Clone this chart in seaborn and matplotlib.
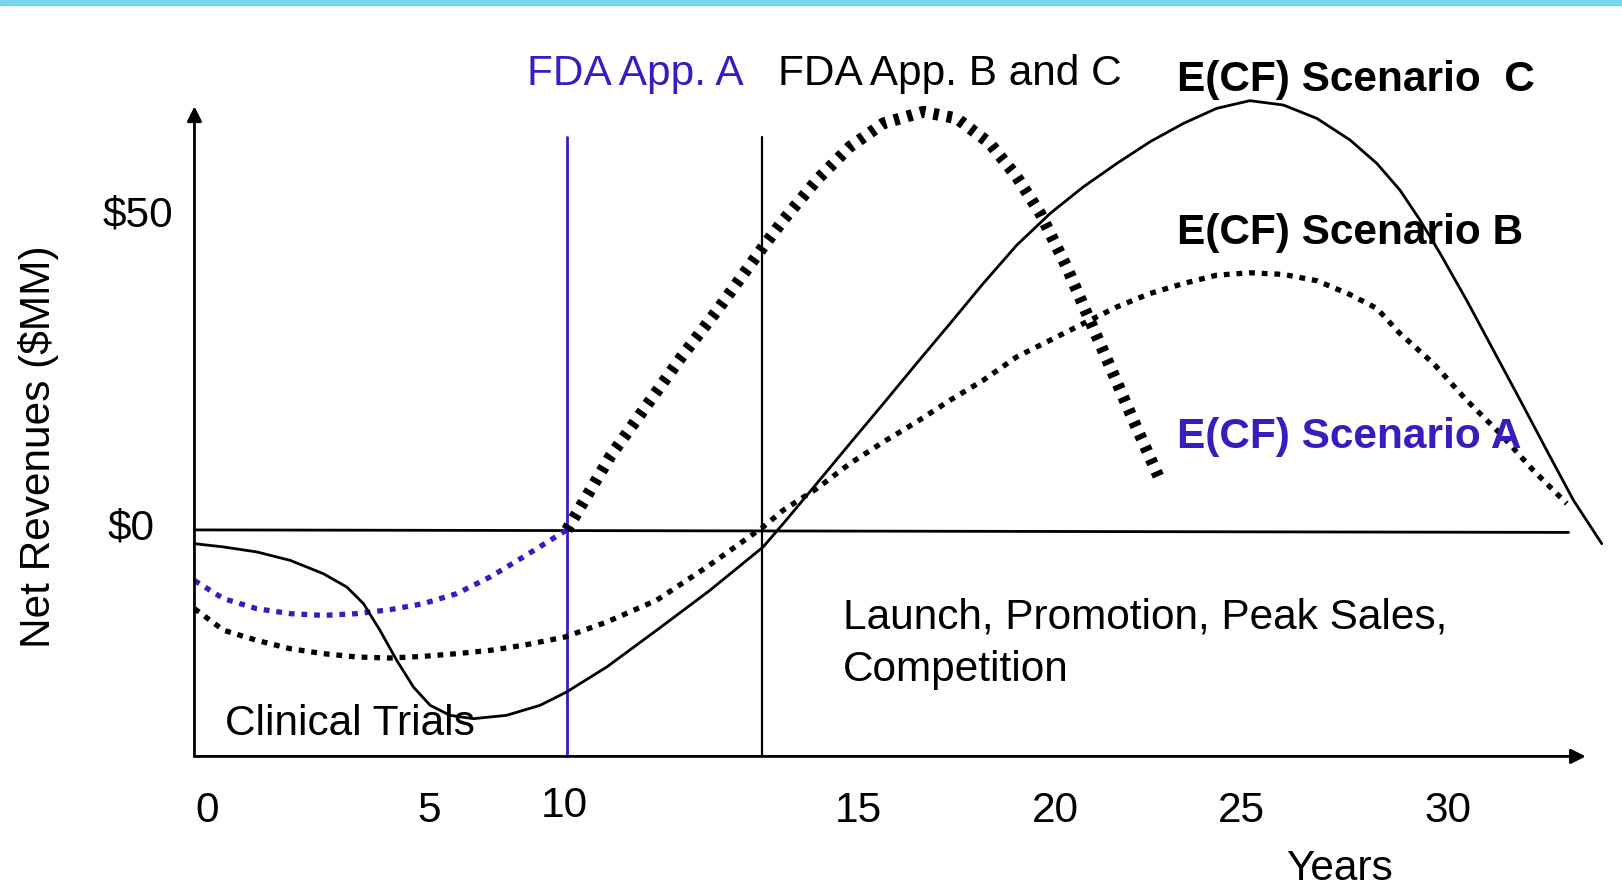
import pandas as pd
import seaborn as sns
from matplotlib import pyplot as plt
from matplotlib.patches import Rectangle

# values (x = years on the sketch scale, y = $MM)
scen_a_years = [0, 0.78, 1.67, 2.57, 3.46, 4.36, 5.25, 6.14, 7.04, 7.94, 8.83, 10,
                11.17, 12.13, 13.09, 14.05, 15.27, 15.81, 16.71, 17.6, 18.5, 19.57,
                20.47, 21.36, 22.08, 22.71, 23.42, 23.96, 24.59, 25.21, 25.97]
scen_a_vals = [-8.05, -10.92, -12.52, -13.31, -13.59, -13.31, -12.68, -11.73, -10.13, -7.48, -4.31, 0,
               11.74, 19.67, 27.6, 35.0, 44.98, 49.23, 55.59, 60.89, 64.61, 66.45,
               65.39, 61.41, 56.12, 50.3, 41.81, 34.39, 25.9, 17.43, 7.37]

scen_b_years = [0, 0.78, 1.67, 2.57, 3.46, 4.36, 5.25, 6.14, 7.04, 7.94, 8.83, 9.95,
                11.07, 12.41, 13.76, 15.27, 15.81, 16.71, 17.6, 18.5, 19.39, 20.29,
                21.18, 22.08, 22.98, 23.87, 24.77, 25.66, 26.56, 27.45, 28.34, 29.24,
                30.14, 31.03, 31.75, 32.37, 33.27, 34.16, 35.06, 35.95, 36.85]
scen_b_vals = [-12.52, -15.95, -17.55, -18.88, -19.67, -20.2, -20.36, -20.1, -19.67, -19.14, -18.34, -17.02,
               -14.64, -11.18, -5.89, 0.46, 3.13, 6.56, 10.54, 13.98, 17.15, 20.61,
               23.78, 27.5, 30.15, 32.8, 35.44, 37.57, 39.16, 40.48, 40.86, 40.6,
               39.6, 37.4, 35.2, 31.22, 26.45, 20.61, 15.31, 9.47, 4.18]

scen_c_years = [0, 0.78, 1.67, 2.57, 3.46, 4.09, 4.54, 4.98, 5.43, 5.88, 6.33, 6.86, 7.49,
                8.38, 9.28, 9.99, 11.07, 12.41, 13.84, 15.27, 15.81, 16.71, 17.6, 18.5,
                19.39, 20.29, 21.18, 22.08, 22.98, 23.87, 24.77, 25.66, 26.56, 27.45,
                28.34, 29.24, 30.14, 31.03, 31.75, 32.37, 32.91, 33.45, 34.16, 34.88,
                35.6, 36.31, 37.03, 37.79]
scen_c_vals = [-2.19, -2.71, -3.5, -4.84, -6.96, -9.08, -11.73, -15.95, -20.72, -24.97, -27.88, -29.47, -30.0,
               -29.47, -27.88, -25.77, -21.79, -15.95, -9.61, -2.71, 1.0, 7.37, 13.72, 20.08,
               26.45, 32.8, 39.16, 45.25, 50.3, 54.52, 58.24, 61.68, 64.61, 66.99,
               68.21, 67.52, 65.39, 61.96, 58.24, 54.0, 49.23, 43.93, 36.51, 28.55,
               20.61, 12.66, 4.7, -2.19]

approval_a = 10
approval_bc = 15.25

tick_labels = ['0', '5', '10', '15', '20', '25', '30']
tick_pos = [0.33, 6.31, 9.92, 17.83, 23.11, 28.11, 33.67]
tick_y = [-44.6, -44.6, -43.8, -44.6, -44.6, -44.6, -44.6]

BLUE = '#391BBF'

sns.set_style("white")
plt.rcParams['font.family'] = ['Liberation Sans', 'DejaVu Sans']
plt.rcParams['text.color'] = 'black'

fig = plt.figure(figsize=(16.22, 8.88), dpi=100)
ax = fig.add_axes([0, 0, 1, 1])
ax.set_xlim(-5.222, 38.333)
ax.set_ylim(-56.91, 84.21)
ax.axis('off')

fig.add_artist(Rectangle((0, 1 - 5 / 888), 1, 5 / 888, transform=fig.transFigure, color='#78D6EC'))

# axes with arrows
arrow = dict(arrowstyle='-|>', lw=2, color='k', mutation_scale=22, shrinkA=0, shrinkB=0)
ax.annotate('', xy=(0, 67.3), xytext=(0, -36), arrowprops=arrow)
ax.annotate('', xy=(37.36, -36), xytext=(0, -36), arrowprops=arrow)
ax.plot([0, 36.9], [0, -0.4], color='k', lw=2)

# approval lines
ax.plot([approval_a, approval_a], [-36, 62.5], color=BLUE, lw=2)
ax.plot([approval_bc, approval_bc], [-36, 62.5], color='k', lw=1.6)

df_a = pd.DataFrame({'years': scen_a_years, 'vals': scen_a_vals})
pre = df_a[df_a.years <= approval_a]
post = df_a[df_a.years >= approval_a]

dots = (0, (1.1, 1.3))
sns.lineplot(data=pre, x='years', y='vals', ax=ax, color=BLUE, lw=3.8, linestyle=dots, sort=False, dash_capstyle='butt')
sns.lineplot(data=post, x='years', y='vals', ax=ax, color='k', lw=8.5, linestyle=(0, (0.45, 0.7)), sort=False, dash_capstyle='butt')
sns.lineplot(x=scen_b_years, y=scen_b_vals, ax=ax, color='k', lw=3.8, linestyle=dots, sort=False, dash_capstyle='butt')
sns.lineplot(x=scen_c_years, y=scen_c_vals, ax=ax, color='k', lw=2, sort=False)

fs = 30.5
ax.text(8.94, 72.4, 'FDA App. A', color=BLUE, fontsize=fs, va='center')
ax.text(15.67, 72.4, 'FDA App. B and C', fontsize=fs, va='center')
ax.text(26.39, 71.5, 'E(CF) Scenario  C', fontsize=fs, fontweight='bold', va='center')
ax.text(26.39, 47.2, 'E(CF) Scenario B', fontsize=fs, fontweight='bold', va='center')
ax.text(26.39, 14.8, 'E(CF) Scenario A', fontsize=fs, fontweight='bold', va='center', color=BLUE)
ax.text(-0.56, 50, '$50', fontsize=fs, ha='right', va='center')
ax.text(-1.06, 0.3, '$0', fontsize=fs, ha='right', va='center')
ax.text(-4.19, 13.2, 'Net Revenues ($MM)', fontsize=fs, rotation=90, ha='center', va='center')
ax.text(17.42, -14.0, 'Launch, Promotion, Peak Sales,', fontsize=fs, va='center')
ax.text(17.42, -22.2, 'Competition', fontsize=fs, va='center')
ax.text(0.83, -30.9, 'Clinical Trials', fontsize=fs, va='center')
for lab, xp, yp in zip(tick_labels, tick_pos, tick_y):
    ax.text(xp, yp, lab, fontsize=fs, ha='center', va='center')
ax.text(30.75, -53.9, 'Years', fontsize=fs, ha='center', va='center')

plt.savefig('out.png', dpi=100)
